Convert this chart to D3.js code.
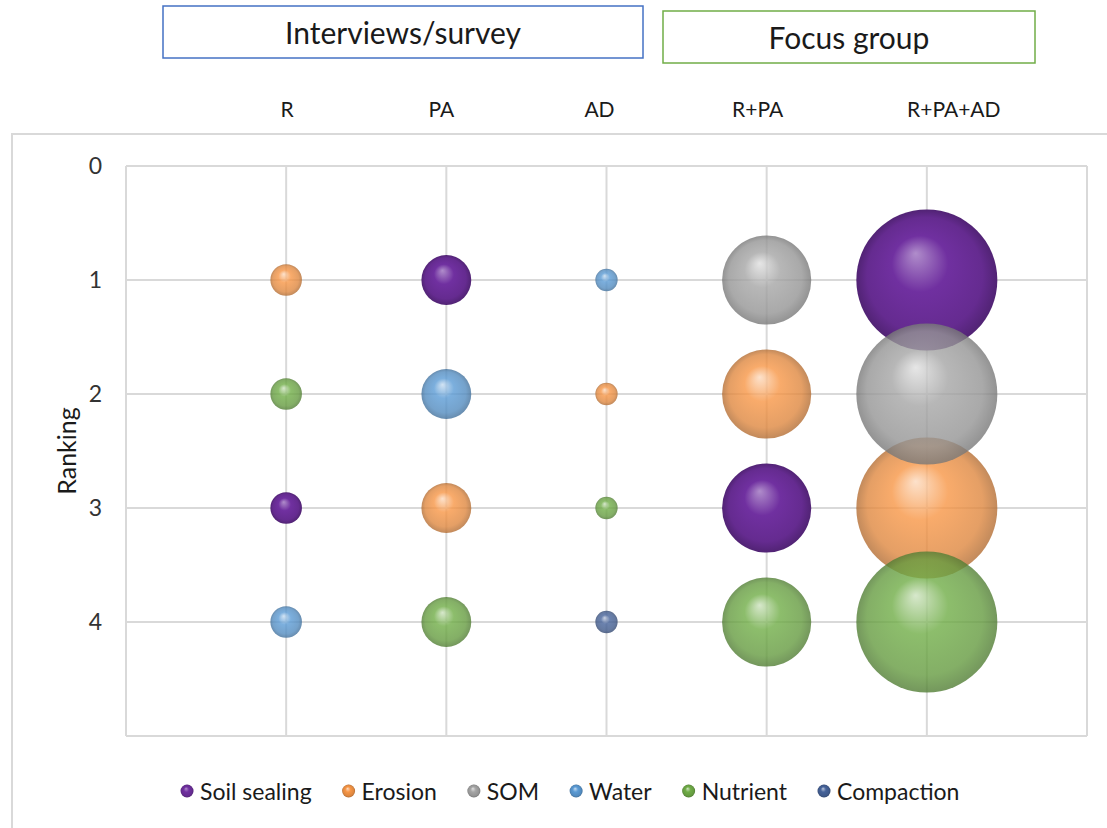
<!DOCTYPE html>
<html>
<head>
<meta charset="utf-8">
<script src="https://cdn.jsdelivr.net/npm/d3@7"></script>
<style>
  html, body { margin: 0; padding: 0; background: #fff; }
  svg { display: block; font-family: Lato, "Open Sans", sans-serif; }
</style>
</head>
<body>
<svg id="chart" width="1107" height="828"></svg>
<script>
// Problem categories (series) and their colours
const categories = ["Soil sealing", "Erosion", "SOM", "Water", "Nutrient", "Compaction"];
const categoryColours = ["#7030a0", "#f79646", "#a5a5a5", "#5b9bd5", "#70ad47", "#46639a"];

// Columns (method combinations) and the two header groups
const columns = ["R", "PA", "AD", "R+PA", "R+PA+AD"];
const groupLabels = ["Interviews/survey", "Focus group"];

// Category ranked 1..4 in each column
const rankR = ["Erosion", "Nutrient", "Soil sealing", "Water"];
const rankPA = ["Soil sealing", "Water", "Erosion", "Nutrient"];
const rankAD = ["Water", "Erosion", "Nutrient", "Compaction"];
const rankRPA = ["SOM", "Erosion", "Soil sealing", "Nutrient"];
const rankRPAAD = ["Soil sealing", "SOM", "Erosion", "Nutrient"];

// Bubble size value for each column
const bubbleSize = [2, 5, 1, 16, 40];

// Y axis ticks
const yTicks = [0, 1, 2, 3, 4];

const rankings = [rankR, rankPA, rankAD, rankRPA, rankRPAAD];

// Build one point per (column, rank)
const points = [];
rankings.forEach((list, ci) => {
  list.forEach((cat, ri) => {
    points.push({ col: ci + 1, rank: ri + 1, category: cat, size: bubbleSize[ci] });
  });
});

const svg = d3.select("#chart");

// Scales
const x = d3.scaleLinear().domain([0, 6]).range([126, 1087]);
const y = d3.scaleLinear().domain([0, 5]).range([166, 736]);
const r = d3.scaleSqrt().domain([0, 40]).range([0, 70.5]);

// Sphere-like radial gradients, one per category
const defs = svg.append("defs");
categories.forEach((c, i) => {
  const base = d3.color(categoryColours[i]);
  const g = defs.append("radialGradient")
    .attr("id", "grad" + i)
    .attr("cx", "50%").attr("cy", "50%").attr("r", "50%")
    .attr("fx", "42%").attr("fy", "31%");
  const hi = d3.interpolateRgb(base, "#ffffff")(i === 0 ? 0.45 : 0.65);
  g.append("stop").attr("offset", "0%").attr("stop-color", hi);
  g.append("stop").attr("offset", "40%").attr("stop-color", base.formatHex());
  g.append("stop").attr("offset", "82%").attr("stop-color", base.darker(0.3).formatHex());
  g.append("stop").attr("offset", "100%").attr("stop-color", base.darker(0.9).formatHex());
});

// Header boxes
const headerBoxes = [
  { x: 163, y: 6, w: 480, h: 52, stroke: "#4472c4" },
  { x: 663, y: 11, w: 372, h: 52, stroke: "#70ad47" }
];
headerBoxes.forEach((b, i) => {
  svg.append("rect")
    .attr("x", b.x).attr("y", b.y).attr("width", b.w).attr("height", b.h)
    .attr("fill", "#fff").attr("stroke", b.stroke).attr("stroke-width", 1.5);
  svg.append("text")
    .attr("x", b.x + b.w / 2).attr("y", b.y + b.h / 2)
    .attr("text-anchor", "middle").attr("dominant-baseline", "central")
    .attr("font-size", 30).attr("fill", "#1a1a1a")
    .text(groupLabels[i]);
});

// Column labels above the chart frame
const labelShift = [1, -5, -7, -9, 27];
svg.append("g").selectAll("text")
  .data(columns)
  .join("text")
  .attr("x", (d, i) => x(i + 1) + labelShift[i])
  .attr("y", 108)
  .attr("text-anchor", "middle").attr("dominant-baseline", "central")
  .attr("font-size", 21).attr("fill", "#1a1a1a")
  .text(d => d);

// Chart frame
svg.append("rect")
  .attr("x", 12).attr("y", 134).attr("width", 1120).attr("height", 720)
  .attr("fill", "none").attr("stroke", "#d9d9d9").attr("stroke-width", 2);

// Gridlines
const grid = svg.append("g").attr("stroke", "#d9d9d9").attr("stroke-width", 2);
grid.selectAll("line.h")
  .data(d3.range(0, 6))
  .join("line").attr("class", "h")
  .attr("x1", x(0)).attr("x2", x(6))
  .attr("y1", d => y(d)).attr("y2", d => y(d));
grid.selectAll("line.v")
  .data(d3.range(0, 7))
  .join("line").attr("class", "v")
  .attr("y1", y(0)).attr("y2", y(5))
  .attr("x1", d => x(d)).attr("x2", d => x(d));

// Y axis labels
const yAxis = d3.axisLeft(y).tickValues(yTicks).tickSize(0).tickPadding(24).tickFormat(d3.format("d"));
const yg = svg.append("g").attr("transform", `translate(${x(0)},0)`).call(yAxis);
yg.select(".domain").remove();
yg.selectAll("text").attr("font-size", 23).attr("fill", "#333")
  .attr("font-family", "Lato, 'Open Sans', sans-serif");

svg.append("text")
  .attr("transform", `translate(66,${(y(0) + y(5)) / 2}) rotate(-90)`)
  .attr("text-anchor", "middle").attr("dominant-baseline", "central")
  .attr("font-size", 25).attr("fill", "#1a1a1a")
  .text("Ranking");

// Bubbles, drawn series by series in legend order
const ordered = points.slice().sort((a, b) =>
  categories.indexOf(a.category) - categories.indexOf(b.category));
svg.append("g").selectAll("circle")
  .data(ordered)
  .join("circle")
  .attr("cx", d => x(d.col))
  .attr("cy", d => y(d.rank))
  .attr("r", d => r(d.size))
  .attr("fill", d => `url(#grad${categories.indexOf(d.category)})`)
  .attr("fill-opacity", d => d.category === "Soil sealing" ? 1 : 0.8);

// Legend
const legend = svg.append("g").attr("transform", "translate(0,791)");
const items = legend.selectAll("g")
  .data(categories)
  .join("g");
items.append("circle")
  .attr("r", 6.5)
  .attr("fill", (d, i) => `url(#grad${i})`);
items.append("text")
  .attr("x", 13).attr("dominant-baseline", "central")
  .attr("font-size", 23).attr("fill", "#1a1a1a")
  .text(d => d);
const widths = [];
items.each(function () {
  const w = 13 + d3.select(this).select("text").node().getComputedTextLength();
  widths.push(w);
});
const gap = 37;
const total = d3.sum(widths) + gap * (widths.length - 1) + 6.5;
let start = 570 - total / 2 + 6.5;
items.attr("transform", (d, i) => {
  const t = `translate(${start},0)`;
  start += widths[i] + gap;
  return t;
});
</script>
</body>
</html>
